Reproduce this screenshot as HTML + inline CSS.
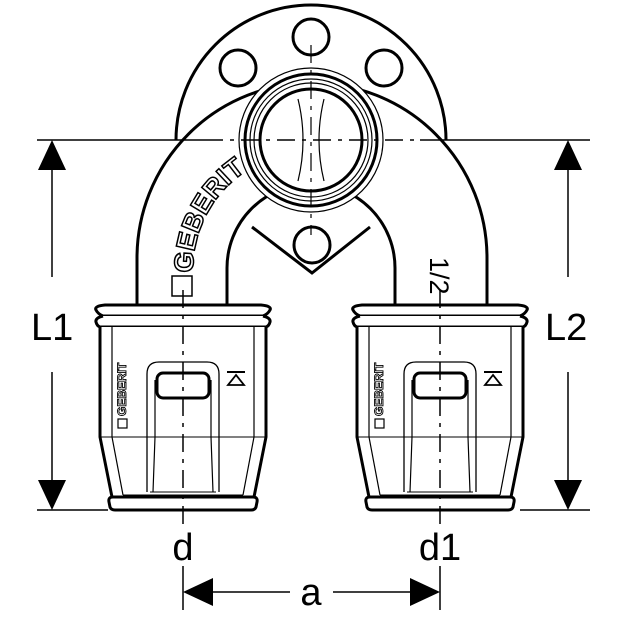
<!DOCTYPE html>
<html><head><meta charset="utf-8"><style>html,body{margin:0;padding:0;background:#fff}svg{display:block}</style></head>
<body>
<svg width="620" height="620" viewBox="0 0 620 620" xmlns="http://www.w3.org/2000/svg" font-family="Liberation Sans, sans-serif">
<defs>
<g id="cap">
  <path d="M-78,305 L78,305 Q89,306 87,310 Q85,314 80,316 L-80,316 Q-85,314 -87,310 Q-89,306 -78,305 Z" fill="#fff" stroke="#000" stroke-width="3"/>
  <path d="M-80,316 Q-88,318 -87,322 Q-86,326 -83,327 L83,327 Q86,326 87,322 Q88,318 80,316" fill="#fff" stroke="#000" stroke-width="3"/>
  <path d="M-83,327 L-83,437 L-71,497 L71,497 L83,437 L83,327" fill="#fff" stroke="#000" stroke-width="3"/>
  <line x1="-83" y1="437" x2="83" y2="437" stroke="#000" stroke-width="1"/>
  <path d="M-71,327 L-71,437 L-60,495 M71,327 L71,437 L60,495" fill="none" stroke="#000" stroke-width="1.2"/>
  <path d="M-70,497 L70,497 Q75,497 74,502 L73,507 Q72,510 68,510 L-68,510 Q-72,510 -73,507 L-74,502 Q-75,497 -70,497 Z" fill="#fff" stroke="#000" stroke-width="3"/>
  <line x1="-60" y1="495" x2="60" y2="495" stroke="#000" stroke-width="1"/>
  <path d="M-36,492 L-36,374 Q-36,362 -24,362 L24,362 Q36,362 36,374 L36,492" fill="none" stroke="#000" stroke-width="1.3"/>
  <path d="M-30,492 L-28,437 L-28,380 M30,492 L28,437 L28,380" fill="none" stroke="#000" stroke-width="1.2"/>
  <line x1="-33" y1="492" x2="33" y2="492" stroke="#000" stroke-width="1"/>
  <rect x="-26" y="373" width="52" height="25" rx="6" fill="#fff" stroke="#000" stroke-width="3"/>
  <line x1="44" y1="372" x2="62" y2="372" stroke="#000" stroke-width="2"/>
  <path d="M53,375 L45,385 L61,385 Z" fill="none" stroke="#000" stroke-width="1.8"/>
  <text transform="translate(-57,416) rotate(-90)" font-size="12" font-weight="bold" fill="#fff" stroke="#000" stroke-width="0.9">GEBERIT</text>
  <rect x="-65" y="419" width="9" height="9" fill="#fff" stroke="#000" stroke-width="1.2"/>
  <line x1="0" y1="290" x2="0" y2="525" stroke="#000" stroke-width="1.5" stroke-dasharray="18,7,4,7"/>
</g>
</defs>

<path d="M176,140 A135,135 0 0 1 446,140" fill="#fff" stroke="#000" stroke-width="3"/>
<circle cx="311" cy="37" r="18" fill="#fff" stroke="#000" stroke-width="3"/>
<circle cx="238" cy="68" r="18" fill="#fff" stroke="#000" stroke-width="3"/>
<circle cx="384" cy="68" r="18" fill="#fff" stroke="#000" stroke-width="3"/>

<path d="M137,306 L137,258 A175,175 0 0 1 487,258 L487,306" fill="none" stroke="#000" stroke-width="3"/>
<path d="M227,306 L227,268 A84,84 0 0 1 395,268 L395,306" fill="none" stroke="#000" stroke-width="3"/>
<path d="M252,227 L312,273 L370,227" fill="none" stroke="#000" stroke-width="3"/>
<circle cx="312" cy="245" r="18" fill="#fff" stroke="#000" stroke-width="3"/>

<circle cx="311" cy="140" r="72" fill="#fff" stroke="#000" stroke-width="1.2"/>
<circle cx="311" cy="140" r="66" fill="#fff" stroke="#000" stroke-width="3"/>
<circle cx="311" cy="140" r="61" fill="none" stroke="#000" stroke-width="1.2"/>
<circle cx="311" cy="140" r="57" fill="none" stroke="#000" stroke-width="1.2"/>
<circle cx="311" cy="140" r="51" fill="#fff" stroke="#000" stroke-width="3"/>
<path d="M298,99 Q308,140 298,181 M324,99 Q314,140 324,181" fill="none" stroke="#000" stroke-width="1.2"/>

<line x1="37" y1="140" x2="205" y2="140" stroke="#000" stroke-width="1.5"/>
<line x1="205" y1="140" x2="420" y2="140" stroke="#000" stroke-width="1.5" stroke-dasharray="18,7,4,7"/>
<line x1="420" y1="140" x2="590" y2="140" stroke="#000" stroke-width="1.5"/>
<line x1="311" y1="45" x2="311" y2="235" stroke="#000" stroke-width="1.2" stroke-dasharray="18,7,4,7"/>

<path id="gp" d="M193,273 L193,270 A119,119 0 0 1 312,151" fill="none"/>
<text font-size="27" font-weight="bold" fill="#fff" stroke="#000" stroke-width="1.5"><textPath href="#gp">GEBERIT</textPath></text>
<rect x="172" y="276" width="20" height="20" fill="#fff" stroke="#000" stroke-width="1.5"/>
<text transform="translate(430,257) rotate(90)" font-size="27" fill="#000">1/2</text>

<use href="#cap" transform="translate(183,0)"/>
<use href="#cap" transform="translate(440,0)"/>

<g stroke="#000" stroke-width="1.5">
<line x1="37" y1="510" x2="108" y2="510"/>
<line x1="520" y1="510" x2="590" y2="510"/>
<line x1="52" y1="165" x2="52" y2="277"/>
<line x1="52" y1="372" x2="52" y2="485"/>
<line x1="568" y1="165" x2="568" y2="277"/>
<line x1="568" y1="372" x2="568" y2="485"/>
<line x1="183" y1="566" x2="183" y2="610"/>
<line x1="440" y1="566" x2="440" y2="610"/>
<line x1="205" y1="592" x2="290" y2="592"/>
<line x1="333" y1="592" x2="418" y2="592"/>
</g>
<g fill="#000">
<path d="M52,140 L38,170 L66,170 Z"/>
<path d="M52,510 L38,480 L66,480 Z"/>
<path d="M568,140 L554,170 L582,170 Z"/>
<path d="M568,510 L554,480 L582,480 Z"/>
<path d="M183,592 L213,578 L213,606 Z"/>
<path d="M440,592 L410,578 L410,606 Z"/>
</g>
<g font-size="38" fill="#000">
<text x="31" y="340">L1</text>
<text x="545" y="340">L2</text>
<text x="183" y="560" text-anchor="middle">d</text>
<text x="440" y="560" text-anchor="middle">d1</text>
<text x="311" y="605" text-anchor="middle">a</text>
</g>
</svg>
</body></html>
